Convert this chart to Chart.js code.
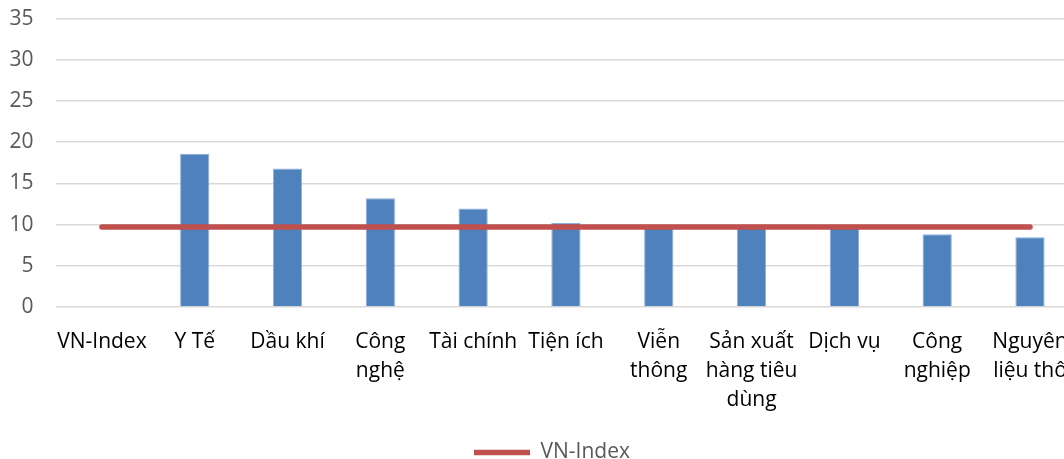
<!DOCTYPE html>
<html>
<head>
<meta charset="utf-8">
<script src="https://cdn.jsdelivr.net/npm/chart.js@4"></script>
<style>
  html, body { margin: 0; padding: 0; overflow: hidden; background: #fff; }
  #wrap { width: 1088px; height: 489px; margin-top: -16px; position: relative; }
</style>
</head>
<body>
<div id="wrap"><canvas id="chart"></canvas></div>
<script>
// P/E theo ngành so với VN-Index
var sectors = ['VN-Index', 'Y Tế', 'Dầu khí', ['Công', 'nghệ'], 'Tài chính', 'Tiện ích',
  ['Viễn', 'thông'], ['Sản xuất', 'hàng tiêu', 'dùng'], 'Dịch vụ', ['Công', 'nghiệp'], ['Nguyên', 'liệu thô']];
var sectorPE = [null, 18.6, 16.8, 13.2, 11.95, 10.2, 9.7, 9.6, 9.6, 8.83, 8.47];
var vnIndexPE = [9.72, 9.72, 9.72, 9.72, 9.72, 9.72, 9.72, 9.72, 9.72, 9.72, 9.72];
var yTicks = [0, 5, 10, 15, 20, 25, 30, 35];

// nudge the legend a little to the right, like the original
var legendShift = {
  id: 'legendShift',
  afterLayout: function (chart) {
    chart.legend.left += 12;
    chart.legend.right += 12;
  }
};

var ctx = document.getElementById('chart').getContext('2d');
new Chart(ctx, {
  data: {
    labels: sectors,
    datasets: [
      {
        type: 'line',
        label: 'VN-Index',
        data: vnIndexPE,
        borderColor: '#C0504D',
        backgroundColor: '#C0504D',
        borderWidth: 5.5,
        borderCapStyle: 'round',
        pointRadius: 0,
        order: 0
      },
      {
        type: 'bar',
        label: 'P/E',
        data: sectorPE,
        backgroundColor: '#4F81BD',
        borderColor: '#8CAEDB',
        borderWidth: 1,
        categoryPercentage: 1,
        barPercentage: 0.315,
        order: 1
      }
    ]
  },
  plugins: [legendShift],
  options: {
    responsive: true,
    maintainAspectRatio: false,
    animation: false,
    layout: { padding: { top: 2, right: 8, left: 0, bottom: 0 } },
    plugins: {
      tooltip: { enabled: false },
      legend: {
        position: 'bottom',
        labels: {
          filter: function (item) { return item.text === 'VN-Index'; },
          usePointStyle: true,
          pointStyle: 'line',
          pointStyleWidth: 56,
          padding: 6,
          color: '#595959',
          font: { family: 'Open Sans', size: 21 }
        }
      }
    },
    scales: {
      x: {
        grid: { display: false, drawTicks: false },
        border: { display: false },
        ticks: {
          color: '#000000',
          padding: 20,
          maxRotation: 0,
          autoSkip: false,
          font: { family: 'Open Sans', size: 21, lineHeight: 1.4 }
        },
        afterFit: function (scale) { scale.height = 129; }
      },
      y: {
        min: 0,
        max: 35,
        afterBuildTicks: function (scale) {
          scale.ticks = yTicks.map(function (v) { return { value: v }; });
        },
        grid: { color: '#D9D9D9', lineWidth: 1.5, drawTicks: false },
        border: { display: false },
        ticks: {
          color: '#595959',
          padding: 22,
          font: { family: 'Open Sans', size: 21 }
        },
        afterFit: function (scale) { scale.width = 55.5; }
      }
    }
  }
});
</script>
</body>
</html>
